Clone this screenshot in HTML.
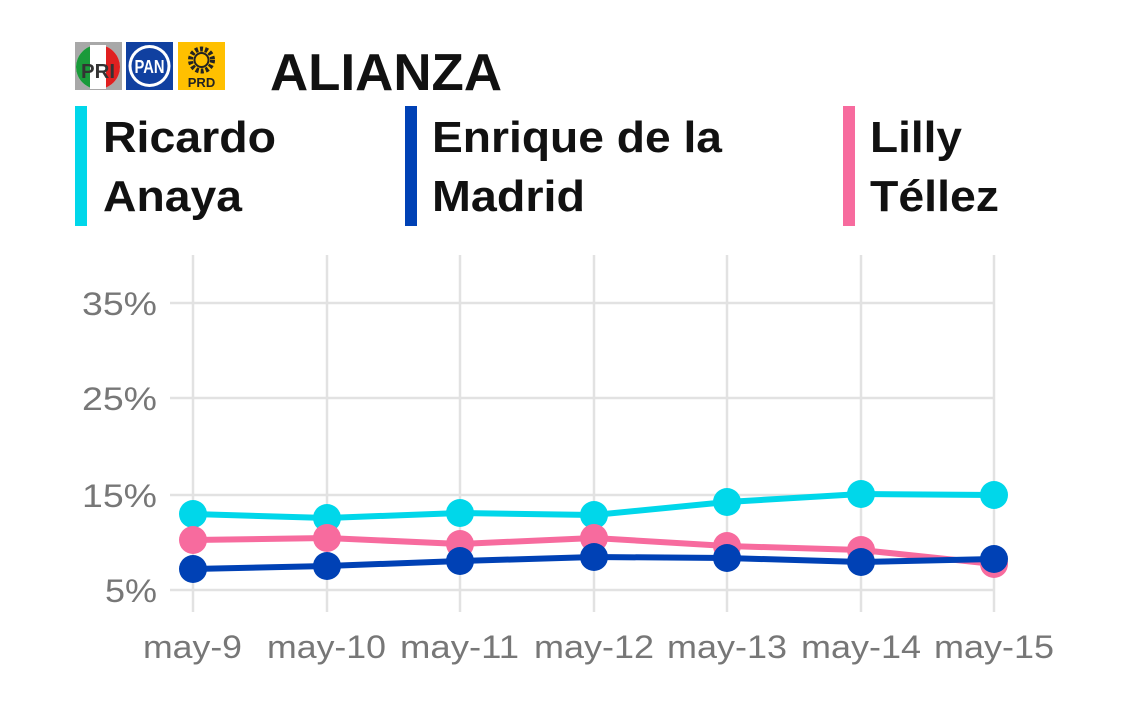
<!DOCTYPE html>
<html><head><meta charset="utf-8"><style>
body{margin:0;background:#fff;width:1122px;height:709px;overflow:hidden;font-family:"Liberation Sans",sans-serif}
</style></head><body>
<svg width="1122" height="709" xmlns="http://www.w3.org/2000/svg" font-family="Liberation Sans, sans-serif">
<!-- logos -->
<rect x="75" y="42" width="47" height="48" fill="#a8a8a8"/>
<circle cx="98" cy="67" r="22" fill="#fff"/>
<path d="M98 45 A22 22 0 0 0 98 89 Z" fill="#1a9a3a"/>
<path d="M98 45 A22 22 0 0 1 98 89 Z" fill="#e02020"/>
<rect x="90" y="45" width="16" height="44" fill="#fff"/>
<text x="81" y="78" font-size="20" font-weight="bold" fill="#333" textLength="34" lengthAdjust="spacingAndGlyphs">PRI</text>
<rect x="126" y="42" width="47" height="48" fill="#1040a0"/>
<circle cx="149.5" cy="66" r="21" fill="#fff"/><circle cx="149.5" cy="66" r="18" fill="#1040a0"/>
<text x="134.5" y="73" font-size="18" font-weight="bold" fill="#fff" textLength="30" lengthAdjust="spacingAndGlyphs">PAN</text>
<rect x="178" y="42" width="47" height="48" fill="#ffc000"/>
<circle cx="201.5" cy="60" r="11" fill="none" stroke="#222" stroke-width="5" stroke-dasharray="3 2"/>
<circle cx="201.5" cy="60" r="7" fill="#ffc000" stroke="#222" stroke-width="2"/>
<text x="201.5" y="87" font-size="13" font-weight="bold" text-anchor="middle" fill="#222">PRD</text>
<text x="270" y="90" font-size="52" font-weight="bold" fill="#111" textLength="232" lengthAdjust="spacingAndGlyphs">ALIANZA</text>
<!-- legend -->
<rect x="75" y="106" width="12" height="120" fill="#00d7ea"/>
<rect x="405" y="106" width="12" height="120" fill="#0041b5"/>
<rect x="843" y="106" width="12" height="120" fill="#f76b9e"/>
<g font-size="44" font-weight="bold" fill="#111">
<text x="103" y="152" textLength="173" lengthAdjust="spacingAndGlyphs">Ricardo</text><text x="103" y="211" textLength="139" lengthAdjust="spacingAndGlyphs">Anaya</text>
<text x="432" y="152" textLength="290" lengthAdjust="spacingAndGlyphs">Enrique de la</text><text x="432" y="211" textLength="153" lengthAdjust="spacingAndGlyphs">Madrid</text>
<text x="870" y="152" textLength="92" lengthAdjust="spacingAndGlyphs">Lilly</text><text x="870" y="211" textLength="129" lengthAdjust="spacingAndGlyphs">Téllez</text>
</g>
<!-- grid -->
<g stroke="#e2e2e2" stroke-width="2.5">
<line x1="170" y1="303" x2="995" y2="303"/><line x1="170" y1="398" x2="995" y2="398"/>
<line x1="170" y1="495" x2="995" y2="495"/><line x1="170" y1="590" x2="995" y2="590"/>
<line x1="193" y1="255" x2="193" y2="612"/><line x1="327" y1="255" x2="327" y2="612"/>
<line x1="460" y1="255" x2="460" y2="612"/><line x1="594" y1="255" x2="594" y2="612"/>
<line x1="727" y1="255" x2="727" y2="612"/><line x1="861" y1="255" x2="861" y2="612"/>
<line x1="994" y1="255" x2="994" y2="612"/>
</g>
<g font-size="32" fill="#777">
<text x="82" y="315" textLength="75" lengthAdjust="spacingAndGlyphs">35%</text><text x="82" y="410" textLength="75" lengthAdjust="spacingAndGlyphs">25%</text><text x="82" y="507" textLength="75" lengthAdjust="spacingAndGlyphs">15%</text><text x="105" y="602" textLength="52" lengthAdjust="spacingAndGlyphs">5%</text>
</g>
<g font-size="32" fill="#777">
<text x="143" y="658" textLength="99" lengthAdjust="spacingAndGlyphs">may-9</text><text x="267" y="658" textLength="119" lengthAdjust="spacingAndGlyphs">may-10</text><text x="400" y="658" textLength="119" lengthAdjust="spacingAndGlyphs">may-11</text>
<text x="534" y="658" textLength="120" lengthAdjust="spacingAndGlyphs">may-12</text><text x="667" y="658" textLength="120" lengthAdjust="spacingAndGlyphs">may-13</text><text x="801" y="658" textLength="120" lengthAdjust="spacingAndGlyphs">may-14</text><text x="934" y="658" textLength="120" lengthAdjust="spacingAndGlyphs">may-15</text>
</g>
<!-- series -->
<g fill="#00d7ea" stroke="#00d7ea">
<polyline fill="none" stroke-width="6" points="193,514 327,518 460,513 594,515 727,502 861,494 994,495"/>
<g stroke="none"><circle cx="193" cy="514" r="14"/><circle cx="327" cy="518" r="14"/><circle cx="460" cy="513" r="14"/><circle cx="594" cy="515" r="14"/><circle cx="727" cy="502" r="14"/><circle cx="861" cy="494" r="14"/><circle cx="994" cy="495" r="14"/></g>
</g>
<g fill="#f76b9e" stroke="#f76b9e">
<polyline fill="none" stroke-width="6" points="193,540 327,538 460,544 594,538 727,546 861,550 994,564"/>
<g stroke="none"><circle cx="193" cy="540" r="14"/><circle cx="327" cy="538" r="14"/><circle cx="460" cy="544" r="14"/><circle cx="594" cy="538" r="14"/><circle cx="727" cy="546" r="14"/><circle cx="861" cy="550" r="14"/><circle cx="994" cy="564" r="14"/></g>
</g>
<g fill="#0041b5" stroke="#0041b5">
<polyline fill="none" stroke-width="6" points="193,569 327,566 460,561 594,557 727,558 861,562 994,559"/>
<g stroke="none"><circle cx="193" cy="569" r="14"/><circle cx="327" cy="566" r="14"/><circle cx="460" cy="561" r="14"/><circle cx="594" cy="557" r="14"/><circle cx="727" cy="558" r="14"/><circle cx="861" cy="562" r="14"/><circle cx="994" cy="559" r="14"/></g>
</g>
</svg>
</body></html>
